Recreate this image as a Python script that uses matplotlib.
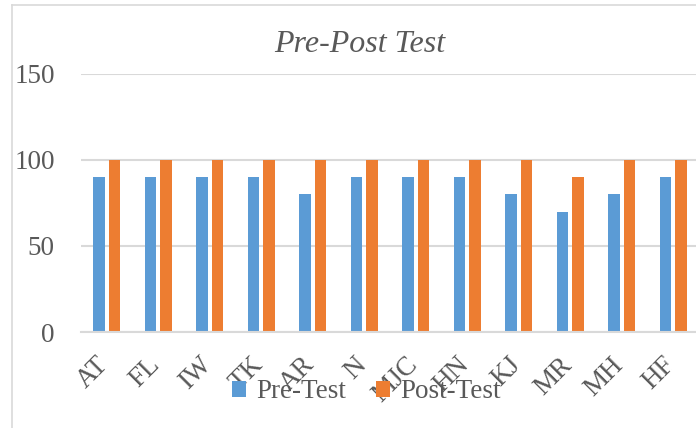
import matplotlib
import matplotlib.pyplot as plt
import numpy as np
from matplotlib.lines import Line2D
from matplotlib.transforms import ScaledTranslation

matplotlib.use("Agg")
plt.rcParams["font.family"] = ["Liberation Serif", "DejaVu Serif"]

# data
students = ["AT", "FL", "IW", "TK", "AR", "N", "MJC", "HN", "KJ", "MR", "MH", "HF"]
pre_test = [90, 90, 90, 90, 80, 90, 90, 90, 80, 70, 80, 90]
post_test = [100, 100, 100, 100, 100, 100, 100, 100, 100, 90, 100, 100]
y_ticks = [0, 50, 100, 150]

BLUE = "#5B9BD5"
ORANGE = "#ED7D31"
TEXT = "#595959"
GRID = "#D9D9D9"

W, H = 696, 428
fig = plt.figure(figsize=(W / 100, H / 100), dpi=100)

# chart border (only left and top visible in the crop)
fig.add_artist(Line2D([12 / W, 12 / W], [0, 1 - 5 / H], color=GRID, lw=1.2))
fig.add_artist(Line2D([12 / W, 1], [1 - 5 / H, 1 - 5 / H], color=GRID, lw=1.2))

left, right = 81 / W, 699 / W
bottom, top = 1 - 332 / H, 1 - 74 / H
ax = fig.add_axes([left, bottom, right - left, top - bottom])

x = np.arange(len(students))
width = 0.223
offset = 0.146
ax.bar(x - offset, pre_test, width, color=BLUE, label="Pre-Test", zorder=3)
ax.bar(x + offset, post_test, width, color=ORANGE, label="Post-Test", zorder=3)

ax.set_xlim(-0.5, len(students) - 0.5)
ax.set_ylim(0, 150)
ax.set_yticks(y_ticks)
ax.set_yticklabels([str(v) for v in y_ticks], fontsize=19.5, color=TEXT)
ax.yaxis.grid(True, color=GRID, lw=1.5, zorder=0)
ax.set_axisbelow(True)

for side in ("top", "right", "left"):
    ax.spines[side].set_visible(False)
ax.spines["bottom"].set_color(GRID)
ax.spines["bottom"].set_linewidth(1.5)
ax.spines["bottom"].set_zorder(4)
ax.tick_params(axis="both", length=0)
ax.tick_params(axis="y", pad=19)
ax.tick_params(axis="x", pad=21)

ax.set_xticks(x)
ax.set_xticklabels(students, fontsize=19.5, color=TEXT, rotation=45,
                   ha="right", va="center", rotation_mode="anchor")
shift = ScaledTranslation(-2 / 100, 0, fig.dpi_scale_trans)
for lbl in ax.get_xticklabels():
    lbl.set_transform(lbl.get_transform() + shift)

fig.text(360 / W, 1 - 45 / H, "Pre-Post Test", fontsize=23, style="italic",
         color=TEXT, ha="center", va="center")

leg = fig.legend(loc="center", bbox_to_anchor=(366 / W, 1 - 392 / H), ncol=2,
                 frameon=False, fontsize=19.5, handlelength=0.55, handleheight=0.55,
                 handletextpad=0.35, columnspacing=1.1, borderaxespad=0)
for t in leg.get_texts():
    t.set_color(TEXT)

fig.savefig("out.png", dpi=100)
